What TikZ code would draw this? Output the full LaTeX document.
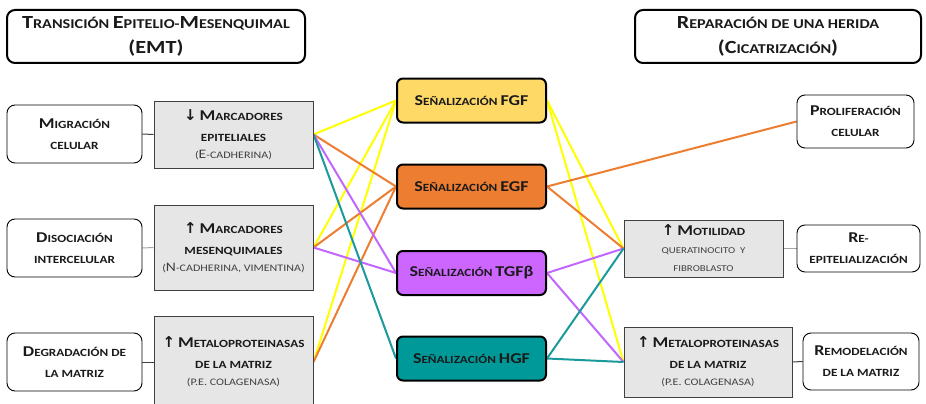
\documentclass[tikz,border=0pt]{standalone}
\usepackage{fontspec}
\setmainfont{Carlito}[FakeStretch=1.2]
\newfontfamily\arrfont{DejaVu Sans}
\usetikzlibrary{backgrounds}
\definecolor{fgfC}{HTML}{FFD966}
\definecolor{egfC}{HTML}{ED7D31}
\definecolor{tgfC}{HTML}{CC66FF}
\definecolor{hgfC}{HTML}{009999}
\definecolor{yelL}{HTML}{FFFF00}
\definecolor{oraL}{HTML}{ED7D31}
\definecolor{vioL}{HTML}{C266FF}
\definecolor{teaL}{HTML}{1A9A9A}
\definecolor{greyFill}{HTML}{E6E6E6}
\definecolor{txt}{HTML}{1A1A1A}
\definecolor{subtxt}{HTML}{404040}
\newcommand\Bg[1]{{\fontsize{15}{15}\selectfont #1}}
\newcommand\Tb[1]{{\fontsize{18.5}{18.5}\selectfont #1}}
\newcommand\Sb[1]{{\fontsize{13}{13}\selectfont #1}}
\newcommand\Up{{\arrfont\bfseries\fontsize{15}{15}\selectfont ↑}}
\newcommand\Dn{{\arrfont\bfseries\fontsize{15}{15}\selectfont ↓}}
\newcommand\Sub{\mdseries\fontsize{10}{10}\selectfont\color{subtxt}}
\newcommand\SubS{\mdseries\fontsize{9}{9}\selectfont\color{subtxt}}
\tikzset{
  base/.style={align=center, inner sep=0pt, text=txt,
    font=\bfseries\fontsize{11}{21}\selectfont},
  titlebox/.style={base, draw=black, line width=2pt, rounded corners=8pt, fill=white,
    font=\bfseries\fontsize{13.5}{25}\selectfont},
  whitebox/.style={base, draw=black, line width=0.9pt, rounded corners=8pt, fill=white},
  greybox/.style={base, draw=subtxt, line width=1pt, fill=greyFill},
  sigbox/.style={base, draw=black, line width=2pt, rounded corners=6pt,
    minimum width=149pt, minimum height=44pt},
  link/.style={line width=2pt},
  darklink/.style={line width=1pt, draw=subtxt},
  lightlink/.style={line width=1pt, draw=black!35}
}
\begin{document}
\begin{tikzpicture}[x=1pt,y=-1pt]
\clip (0,0) rectangle (926,404);
% titles
\node[titlebox, minimum width=298pt, minimum height=53pt] (tl) at (156,36.5)
  {\Tb{T}RANSICIÓN \Tb{E}PITELIO-\Tb{M}ESENQUIMAL\\\Tb{(EMT)}};
\node[titlebox, minimum width=286pt, minimum height=53pt] (tr) at (778,36.5)
  {\Tb{R}EPARACIÓN DE UNA HERIDA\\\Tb{(C}ICATRIZACIÓN\Tb{)}};
% left white boxes
\node[whitebox, minimum width=135pt, minimum height=58pt] (mig) at (74.5,134)
  {\Bg{M}IGRACIÓN\\CELULAR};
\node[whitebox, minimum width=135pt, minimum height=58pt] (dis) at (74.5,248)
  {\Bg{D}ISOCIACIÓN\\INTERCELULAR};
\node[whitebox, minimum width=135pt, minimum height=58pt] (deg) at (74.5,362)
  {\Bg{D}EGRADACIÓN DE\\LA MATRIZ};
% left grey boxes
\node[greybox, minimum width=159pt, minimum height=67pt] (g1) at (233.5,134.5)
  {\Dn\ \Bg{M}ARCADORES\\EPITELIALES\\[-4pt]{\Sub(\Sb{E}-CADHERINA)}};
\node[greybox, minimum width=159pt, minimum height=85pt] (g2) at (233.5,247.5)
  {\Up\ \Bg{M}ARCADORES\\MESENQUIMALES\\[-4pt]{\Sub(\Sb{N}-CADHERINA, VIMENTINA)}};
\node[greybox, minimum width=159pt, minimum height=92pt] (g3) at (233.5,362)
  {\Up\ \Bg{M}ETALOPROTEINASAS\\DE LA MATRIZ\\[-4pt]{\Sub(P.E. COLAGENASA)}};
% signalling boxes
\node[sigbox, fill=fgfC] (fgf) at (471.5,100.5) {\Bg{S}EÑALIZACIÓN \Bg{FGF}};
\node[sigbox, fill=egfC] (egf) at (471.5,186.5) {\Bg{S}EÑALIZACIÓN \Bg{EGF}};
\node[sigbox, fill=tgfC] (tgf) at (471.5,273) {\Bg{S}EÑALIZACIÓN \Bg{TGFβ}};
\node[sigbox, fill=hgfC] (hgf) at (471.5,358.5) {\Bg{S}EÑALIZACIÓN \Bg{HGF}};
% right boxes
\node[whitebox, minimum width=117pt, minimum height=53pt] (pro) at (855.5,121.5)
  {\Bg{P}ROLIFERACIÓN\\CELULAR};
\node[greybox, minimum width=159pt, minimum height=57pt] (mot) at (703.5,248.5)
  {\Up\ \Bg{M}OTILIDAD\\[-3pt]{\SubS QUERATINOCITO\ \ Y}\\[-3pt]{\SubS FIBROBLASTO}};
\node[whitebox, minimum width=123pt, minimum height=47pt] (rep) at (858.5,248.5)
  {\Bg{R}E-\\EPITELIALIZACIÓN};
\node[greybox, minimum width=168pt, minimum height=70pt] (mr) at (708,362)
  {\Up\ \Bg{M}ETALOPROTEINASAS\\DE LA MATRIZ\\[-4pt]{\Sub(P.E. COLAGENASA)}};
\node[whitebox, minimum width=116pt, minimum height=57pt] (rem) at (861,361.5)
  {\Bg{R}EMODELACIÓN\\DE LA MATRIZ};
% connectors
\begin{scope}[on background layer]
\draw[darklink] (mig.east) -- (g1.west);
\draw[lightlink] (dis.east) -- (g2.west);
\draw[darklink] (deg.east) -- (g3.west);
\draw[lightlink] (mot.east) -- (rep.west);
\draw[darklink] (mr.east) -- (rem.west);
% left side
\draw[link, yelL] (g1.east) -- (fgf.west);
\draw[link, yelL] (g2.east) -- (fgf.west);
\draw[link, yelL] (g3.east) -- (fgf.west);
\draw[link, oraL] (g1.east) -- (egf.west);
\draw[link, oraL] (g2.east) -- (egf.west);
\draw[link, oraL] (g3.east) -- (egf.west);
\draw[link, vioL] (g1.east) -- (tgf.west);
\draw[link, vioL] (g2.east) -- (tgf.west);
\draw[link, teaL] (g1.east) -- (hgf.west);
% right side
\draw[link, yelL] (fgf.east) -- (mot.west);
\draw[link, yelL] (fgf.east) -- (mr.west);
\draw[link, oraL] (egf.east) -- (pro.west);
\draw[link, oraL] (egf.east) -- (mot.west);
\draw[link, vioL] (tgf.east) -- (mot.west);
\draw[link, vioL] (tgf.east) -- (mr.west);
\draw[link, teaL] (hgf.east) -- (mot.west);
\draw[link, teaL] (hgf.east) -- (mr.west);
\end{scope}
\end{tikzpicture}
\end{document}
